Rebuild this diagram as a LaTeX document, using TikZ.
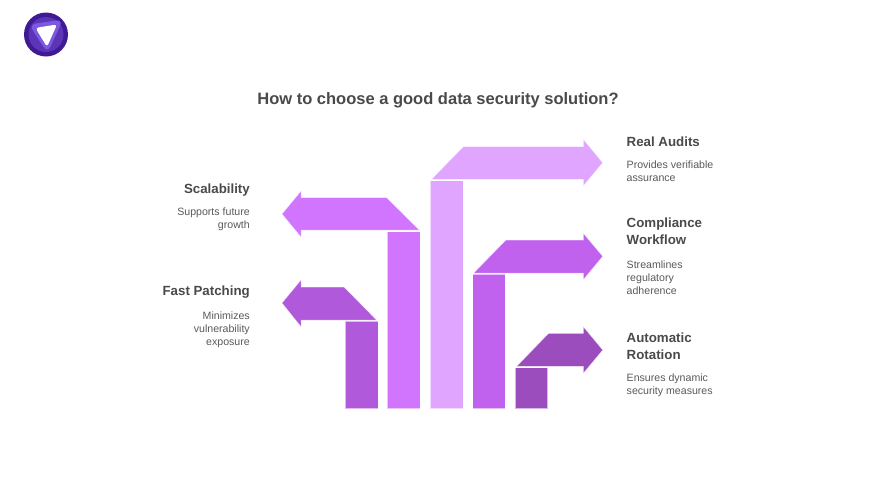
\documentclass[tikz,border=0pt]{standalone}
\usepackage{fontspec}
\setmainfont{Liberation Sans}
\definecolor{cAudit}{HTML}{E0A6FF}
\definecolor{cScale}{HTML}{D175FF}
\definecolor{cComp}{HTML}{C062EE}
\definecolor{cPatch}{HTML}{B059DB}
\definecolor{cRot}{HTML}{9B4DBD}
\definecolor{txt}{HTML}{4A4A4A}
\definecolor{txtb}{HTML}{5A5A5A}
\definecolor{logoA}{HTML}{3F1A94}
\definecolor{logoB}{HTML}{5B34B8}
\definecolor{logoC}{HTML}{7C5AE0}
\tikzset{
  x=1pt,y=-1pt,
  shapeedge/.style={line width=.5pt,draw=white,draw opacity=.6},
  titletext/.style={font=\bfseries\fontsize{16.5}{20}\selectfont,text=txt,inner sep=0pt},
  headR/.style={font=\bfseries\fontsize{13.3}{17}\selectfont,text=txt,inner sep=0pt,anchor=north west,align=left},
  headL/.style={font=\bfseries\fontsize{13.3}{17}\selectfont,text=txt,inner sep=0pt,anchor=north east,align=right},
  bodyR/.style={font=\fontsize{10.6}{13}\selectfont,text=txtb,inner sep=0pt,anchor=north west,align=left},
  bodyL/.style={font=\fontsize{10.6}{13}\selectfont,text=txtb,inner sep=0pt,anchor=north east,align=right},
}
\begin{document}
\begin{tikzpicture}
\useasboundingbox (0,0) rectangle (876,493);
\fill[white] (0,0) rectangle (876,493);
% logo
\fill[logoA] (46,34.5) circle (22);
\fill[logoB] (46,34.5) circle (17.5);
\fill[logoC,rounded corners=7pt] (46,22) -- (63,19.5) -- (47.5,53) -- (29,24.5) -- cycle;
\fill[white,rounded corners=3pt] (46,26.2) -- (57,24.5) -- (47,47) -- (35.5,28) -- cycle;
% bars
\fill[cPatch,shapeedge] (345,321) rectangle (378,408.5);
\fill[cScale,shapeedge] (387.3,231.5) rectangle (420,408.5);
\fill[cAudit,shapeedge] (430,180.5) rectangle (463,408.5);
\fill[cComp,shapeedge] (472.7,274) rectangle (505,408.5);
\fill[cRot,shapeedge] (515,367.7) rectangle (547.7,408.5);
% arrows
\fill[cScale,shapeedge] (419.3,230) -- (386.7,197.7) -- (301,197.7) -- (301,191) -- (282,214) -- (301,237) -- (301,230) -- cycle;
\fill[cPatch,shapeedge] (376.5,320) -- (344,287) -- (301,287) -- (301,280) -- (282,303) -- (301,326.7) -- (301,320) -- cycle;
\fill[cAudit,shapeedge] (431.5,179.3) -- (463.3,146.7) -- (583.3,146.7) -- (583.3,139.3) -- (602.7,162.7) -- (583.3,186) -- (583.3,179.3) -- cycle;
\fill[cComp,shapeedge] (473.7,273) -- (506,240) -- (583.3,240) -- (583.3,233.3) -- (602.7,256.3) -- (583.3,279.7) -- (583.3,273) -- cycle;
\fill[cRot,shapeedge] (516.7,366.3) -- (548.7,333.3) -- (583.3,333.3) -- (583.3,326.7) -- (602.7,350) -- (583.3,373.3) -- (583.3,366.3) -- cycle;
% text
\node[titletext] (title) at (438,100.3) {How to choose a good data security solution?};
\node[headR] (h1) at (626.5,137) {Real Audits};
\node[bodyR] (b1) at (626.5,160.5) {Provides verifiable\\assurance};
\node[headR] (h2) at (626.5,218) {Compliance\\Workflow};
\node[bodyR] (b2) at (626.5,260.7) {Streamlines\\regulatory\\adherence};
\node[headR] (h3) at (626.5,333) {Automatic\\Rotation};
\node[bodyR] (b3) at (626.5,373.7) {Ensures dynamic\\security measures};
\node[headL] (h4) at (250,184) {Scalability};
\node[bodyL] (b4) at (250,207.7) {Supports future\\growth};
\node[headL] (h5) at (250,286) {Fast Patching};
\node[bodyL] (b5) at (250,311.7) {Minimizes\\vulnerability\\exposure};
\end{tikzpicture}
\end{document}
